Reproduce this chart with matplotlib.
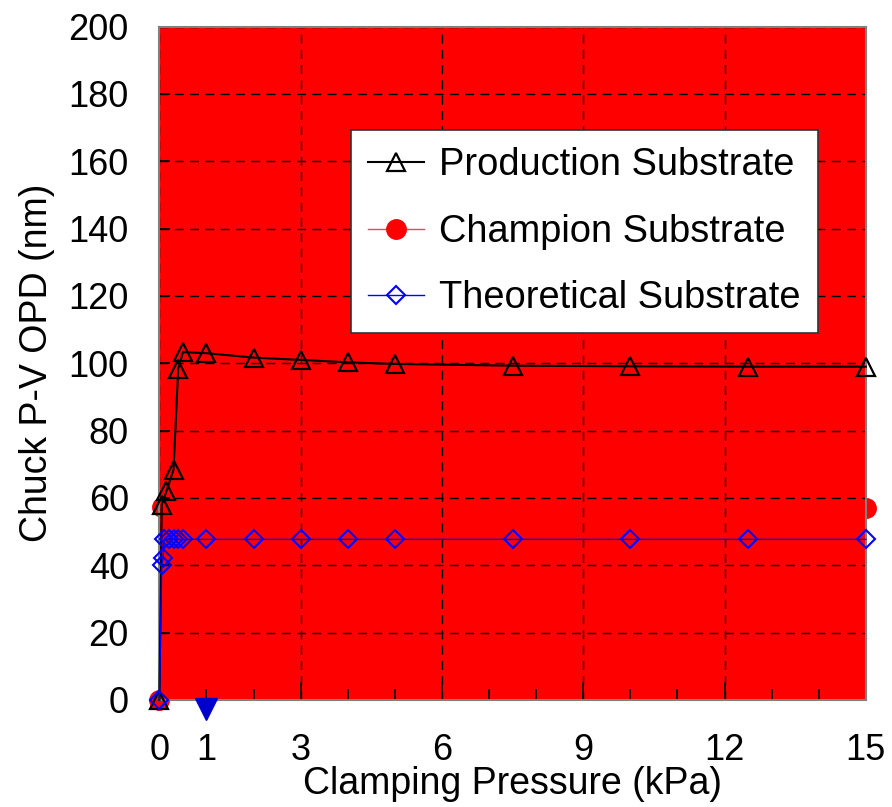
import matplotlib
matplotlib.use("Agg")
import matplotlib.pyplot as plt

plt.rcParams['font.family'] = ['Liberation Sans', 'DejaVu Sans']

# clamping pressure (kPa) and chuck P-V OPD (nm) for each substrate
prod_x = [0, 0.05, 0.15, 0.3, 0.4, 0.5, 1, 2, 3, 4, 5, 7.5, 10, 12.5, 15]
prod_y = [0, 58, 62, 68.4, 98.4, 103.3, 103.0, 101.7, 101.0, 100.3, 99.8, 99.3, 99.1, 99.0, 99.0]

champ_x = [0, 0.05, 0.1, 0.2, 0.3, 0.4, 0.5, 1, 2, 3, 4, 5, 7.5, 10, 12.5, 15]
champ_y = [0, 57.3, 57.3, 57.3, 57.3, 57.3, 57.3, 57.3, 57.3, 57.3, 57.3, 57.3, 57.3, 57.2, 57.2, 57.1]

theo_x = [0, 0.05, 0.08, 0.1, 0.2, 0.3, 0.4, 0.5, 1, 2, 3, 4, 5, 7.5, 10, 12.5, 15]
theo_y = [0, 40.2, 42.2, 47.7, 47.7, 47.7, 47.7, 47.7, 47.7, 47.7, 47.7, 47.7, 47.7, 47.7, 47.7, 47.7, 47.7]

# stray marker sitting just under the axis at 1 kPa
extra_x = [1]
extra_y = [-2.7]

x_major = [0, 3, 6, 9, 12, 15]
x_minor = list(range(16))
x_minor_labels = ['1' if v == 1 else '' for v in x_minor]
y_ticks = list(range(0, 201, 20))

fig = plt.figure(figsize=(8.92, 8.07), dpi=100)
ax = fig.add_axes([0.1787, 0.1326, 0.7920, 0.8344])
ax.set_facecolor('#ff0000')

# champion series sits under the grid, red on red
ax.plot(champ_x, champ_y, color='#ff0000', lw=1, marker='o', ms=14,
        mfc='#ff0000', mec='#ff0000', label='Champion Substrate',
        clip_on=False, zorder=1.2)
ax.plot(prod_x, prod_y, color='black', lw=1.5, marker='^', ms=13,
        mfc='none', mec='black', mew=1.6, label='Production Substrate',
        clip_on=False, zorder=4)
ax.plot(theo_x, theo_y, color='#0000ff', lw=1, marker='D', ms=9,
        mfc='none', mec='#0000ff', mew=1.5, label='Theoretical Substrate',
        clip_on=False, zorder=5)
ax.plot(extra_x, extra_y, ls='none', marker='v', ms=16, color='#0000cc',
        clip_on=False, zorder=6)

ax.set_xlim(0, 15)
ax.set_ylim(0, 200)
ax.set_xticks(x_major)
ax.set_xticks(x_minor, labels=x_minor_labels, minor=True)
ax.set_yticks(y_ticks)

ax.grid(True, which='major', color='black', lw=1, ls=(0, (6.5, 4.5)))
ax.set_axisbelow('line')

ax.tick_params(axis='x', which='major', direction='in', length=13, width=1.2,
               labelsize=26, pad=24, top=False)
ax.tick_params(axis='x', which='minor', direction='in', length=8, width=1.2,
               labelsize=26, pad=24, top=False)
ax.tick_params(axis='y', which='major', direction='in', length=8, width=1.2,
               labelsize=26, pad=22, right=False)
for s in ax.spines.values():
    s.set_color('#808080')
    s.set_linewidth(1.5)

ax.set_xlabel('Clamping Pressure (kPa)', fontsize=27, labelpad=-2)
ax.set_ylabel('Chuck P-V OPD (nm)', fontsize=27, labelpad=10)

h, l = ax.get_legend_handles_labels()
order = [1, 0, 2]
# legend line for the champion series is a lighter red
h[0] = plt.Line2D([], [], color='#ff4040', lw=1, marker='o', ms=14,
                  mfc='#ff0000', mec='#ff0000')
leg = ax.legend([h[i] for i in order], [l[i] for i in order],
                loc='upper left', bbox_to_anchor=(0.271, 0.846),
                fontsize=27.4, frameon=True, fancybox=False, shadow=False,
                framealpha=1, edgecolor='#333333', handlelength=1.47,
                handletextpad=0.4, labelspacing=0.8, borderpad=0.45,
                borderaxespad=0)
leg.get_frame().set_linewidth(1.2)
leg.set_zorder(10)

fig.savefig('out.png', dpi=100, facecolor='white')
